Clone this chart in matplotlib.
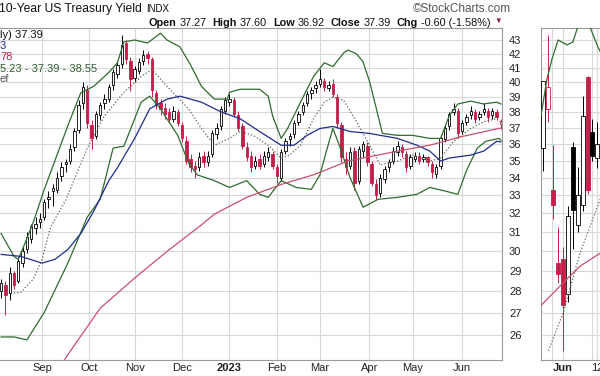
import numpy as np
import pandas as pd
import matplotlib
matplotlib.use("Agg")
import matplotlib.pyplot as plt
from matplotlib.ticker import NullLocator

plt.rcParams['font.family'] = ['Liberation Sans', 'DejaVu Sans']

# ---------------- data ----------------
# main panel: one candle every 2 weekdays, starting 2022-08-05
opens = [28.0, 28.3, 27.9, 28.9, 28.5, 29.4, 30.1, 30.6, 31.2, 31.5, 31.8, 32.8, 33.2, 33.3, 34.1, 34.8,
         35.0, 35.8, 36.9, 38.6, 39.5, 37.2, 36.5, 37.8, 38.6, 38.9, 39.8, 40.6, 41.3, 42.8, 41.5, 40.3,
         40.8, 41.5, 42.0, 41.6, 39.3, 38.6, 38.3, 38.0, 37.6, 38.0, 37.2, 36.2, 35.1, 34.7, 34.6, 35.3,
         34.9, 35.4, 36.6, 37.1, 38.1, 38.7, 38.8, 37.8, 37.1, 35.8, 35.3, 34.7, 35.1, 34.8, 35.2, 35.4,
         34.6, 34.0, 35.6, 36.3, 36.6, 37.4, 38.0, 38.6, 39.3, 39.6, 39.9, 40.1, 39.6, 39.9, 39.0, 37.2,
         35.1, 34.7, 35.6, 33.8, 35.6, 35.9, 34.8, 33.6, 33.1, 33.9, 34.6, 35.0, 35.5, 35.8, 35.4, 34.7,
         35.1, 35.3, 35.1, 35.2, 34.8, 34.2, 34.7, 36.3, 37.1, 38.0, 38.1, 36.8, 37.4, 37.8, 38.0, 37.7,
         38.0, 38.1, 37.8, 38.0, 37.27]
highs = [28.6, 28.5, 29.2, 29.0, 29.7, 30.2, 31.0, 31.4, 31.8, 32.0, 32.8, 33.2, 33.6, 34.3, 34.9, 35.1,
         36.0, 37.0, 38.8, 40.0, 39.8, 37.5, 38.1, 38.7, 39.2, 39.9, 40.9, 41.5, 43.4, 43.0, 41.8, 41.1,
         41.7, 42.3, 42.2, 41.8, 39.5, 38.9, 38.6, 38.3, 38.4, 38.2, 37.4, 36.5, 35.4, 35.0, 35.5, 35.6,
         35.6, 36.9, 37.3, 38.4, 39.0, 39.2, 39.0, 38.1, 37.3, 36.1, 35.6, 35.3, 35.4, 35.6, 35.8, 35.6,
         34.8, 35.7, 36.4, 36.7, 37.5, 38.1, 38.7, 39.4, 39.7, 40.1, 40.9, 40.3, 40.1, 40.2, 39.2, 37.4,
         35.5, 35.8, 35.8, 35.9, 36.2, 36.1, 35.0, 33.9, 34.2, 34.7, 35.1, 35.8, 36.2, 36.0, 35.6, 35.4,
         35.5, 35.5, 35.4, 35.3, 35.0, 34.8, 36.5, 37.2, 38.0, 38.6, 38.3, 37.5, 37.9, 38.4, 38.2, 38.1,
         38.6, 38.3, 38.3, 38.2, 37.60]
lows = [27.7, 26.9, 27.6, 28.1, 28.4, 29.2, 29.9, 30.4, 30.9, 31.2, 31.6, 32.3, 32.4, 33.1, 33.8, 34.3,
        34.8, 35.6, 36.7, 38.2, 37.0, 35.7, 36.3, 37.5, 38.2, 38.7, 39.5, 40.3, 41.0, 41.3, 39.4, 40.0,
        40.6, 41.2, 41.3, 39.0, 38.2, 37.8, 37.6, 37.3, 37.4, 37.1, 36.1, 34.8, 34.3, 34.0, 34.4, 34.6,
        34.7, 35.2, 36.3, 36.9, 37.9, 38.4, 37.7, 36.8, 35.7, 35.0, 34.3, 34.5, 34.5, 34.6, 35.0, 34.5,
        33.7, 33.8, 35.4, 35.9, 36.4, 37.2, 37.8, 38.4, 38.9, 39.3, 39.7, 39.4, 39.4, 39.0, 37.0, 34.9,
        34.2, 34.5, 33.3, 33.6, 35.2, 34.7, 33.5, 32.7, 32.9, 33.7, 34.3, 34.8, 35.3, 35.2, 34.3, 34.5,
        34.9, 34.8, 34.9, 34.7, 34.0, 34.0, 34.5, 36.1, 36.9, 37.8, 36.4, 36.6, 37.2, 37.6, 37.3, 37.5,
        37.8, 37.4, 37.6, 37.5, 36.92]
closes = [28.4, 27.8, 28.9, 28.3, 29.5, 30.0, 30.7, 31.3, 31.4, 31.7, 32.6, 32.9, 33.4, 34.0, 34.6, 34.9,
          35.7, 36.8, 38.5, 39.7, 37.3, 36.4, 37.9, 38.5, 38.9, 39.7, 40.7, 41.2, 42.6, 41.6, 40.2, 40.9,
          41.4, 41.9, 41.7, 39.5, 38.5, 38.2, 37.9, 37.6, 38.1, 37.3, 36.4, 35.0, 34.6, 34.5, 35.2, 34.9,
          35.3, 36.7, 37.0, 38.2, 38.8, 38.9, 37.9, 37.0, 35.9, 35.2, 34.6, 35.0, 34.7, 35.3, 35.5, 34.7,
          34.1, 35.5, 36.2, 36.5, 37.3, 37.9, 38.5, 39.2, 39.5, 39.8, 40.2, 39.7, 39.8, 39.2, 37.3, 35.2,
          34.6, 35.5, 33.7, 35.7, 36.0, 34.9, 33.7, 33.0, 34.0, 34.5, 34.9, 35.6, 35.9, 35.5, 34.6, 35.2,
          35.3, 35.0, 35.2, 34.9, 34.3, 34.6, 36.4, 37.0, 37.9, 38.2, 36.7, 37.3, 37.7, 38.1, 37.6, 37.9,
          38.2, 37.7, 38.1, 37.7, 37.39]

# indicator lines: (weekday index, value)
bb_upper_x = [0, 6, 8, 11, 15, 20, 31, 37, 43, 50, 54, 57, 62, 68, 74, 77, 83, 88, 93, 99, 105, 106, 111,
              120, 124, 126, 130, 133, 139, 145, 150, 154, 159, 161, 165, 168, 171, 175, 177, 184, 191,
              199, 204, 208, 212, 218, 224, 230, 232]
bb_upper = [30.9, 29.72, 29.57, 30.37, 31.52, 33.3, 37.15, 39.3, 39.73, 40.68, 41.36, 42.86, 43.0, 42.78,
            43.5, 43.0, 42.5, 41.2, 39.73, 38.87, 38.87, 39.33, 39.53, 39.53, 39.07, 37.78, 36.35, 36.97,
            38.67, 40.4, 41.36, 41.09, 42.06, 42.27, 41.99, 41.43, 40.07, 37.78, 36.66, 36.54, 36.54,
            36.35, 36.35, 37.78, 38.55, 38.74, 38.55, 38.67, 38.55]
bb_lower_x = [0, 6, 12, 20, 31, 40, 46, 52, 57, 65, 69, 74, 82, 87, 91, 99, 106, 114, 120, 124, 130, 137,
              144, 148, 151, 154, 157, 162, 168, 175, 184, 193, 199, 205, 212, 216, 221, 225, 231, 232]
bb_lower = [25.9, 25.9, 25.77, 27.0, 29.38, 31.78, 32.76, 35.75, 35.87, 38.67, 39.07, 38.23, 36.54, 34.86,
            34.16, 33.82, 33.43, 33.82, 33.04, 32.87, 33.82, 33.43, 33.32, 34.16, 35.57, 36.97, 35.93,
            33.99, 32.32, 32.76, 32.87, 33.04, 33.43, 33.26, 33.04, 34.4, 35.75, 36.17, 36.35, 36.23]
sma20_x = [6, 9, 15, 19, 23, 30, 40, 48, 57, 65, 70, 77, 87, 93, 99, 106, 111, 117, 124, 130, 134, 139,
           145, 150, 154, 159, 165, 171, 176, 184, 191, 199, 204, 210, 218, 224, 230, 232]
sma20 = [27.93, 27.93, 28.6, 29.57, 31.26, 32.71, 35.75, 37.78, 39.33, 40.4, 40.88, 39.73, 38.23, 36.97,
         35.93, 36.35, 36.78, 36.54, 35.93, 35.15, 35.33, 35.93, 37.59, 38.67, 39.0, 38.8, 37.4, 35.93,
         34.74, 34.97, 35.33, 34.97, 35.15, 36.17, 36.97, 37.4, 37.59, 37.39]
sma50_x = [0, 9, 19, 25, 31, 37, 43, 50, 54, 62, 69, 77, 83, 93, 102, 111, 120, 130, 136, 142, 148, 154,
           162, 171, 184, 193, 199, 204, 208, 218, 224, 230, 232]
sma50 = [29.82, 29.72, 29.38, 29.57, 30.07, 30.9, 32.1, 33.82, 34.57, 36.35, 38.23, 38.87, 39.07, 38.67,
         38.04, 37.59, 36.78, 35.93, 35.93, 36.54, 36.97, 37.1, 36.78, 36.66, 36.35, 35.93, 35.57, 34.97,
         35.15, 35.33, 35.57, 36.17, 36.13]
sma200_x = [28, 31, 46, 62, 77, 93, 99, 114, 130, 145, 161, 168, 184, 199, 214, 231, 232]
sma200 = [24.7, 25.13, 27.2, 28.64, 29.97, 31.36, 31.94, 32.87, 33.6, 34.16, 34.97, 35.15, 35.57, 35.93,
          36.47, 36.97, 37.0]

# right-hand panel (partly cut off)
r_open = [35.75, 38.23, 33.26, 29.38, 29.57, 27.89, 35.81, 31.36, 32.43, 40.4, 36.78, 35.15]
r_high = [40.1, 43.4, 35.93, 31.26, 30.2, 32.38, 36.11, 34.6, 39.06, 40.47, 37.59, 37.4]
r_low = [34.4, 37.4, 31.68, 28.41, 25.3, 27.47, 30.07, 31.0, 32.1, 33.04, 35.0, 34.57]
r_close = [40.07, 39.67, 32.43, 28.84, 27.33, 31.84, 32.15, 32.98, 37.78, 33.26, 35.27, 36.0]
r_upper_x = [-0.5, 0.7, 1.7, 3.0, 4.8, 6.0, 7.0, 8.0, 9.5, 11.1, 12.5]
r_upper = [37.78, 40.2, 41.57, 43.0, 42.64, 42.85, 43.97, 44.9, 43.97, 42.5, 41.57]
r_sma20_x = [1, 4, 7.5, 11.5, 13.6]
r_sma20 = [25.3, 26.97, 29.92, 32.7, 34.2]
r_sma200_x = [-0.5, 4, 7.5, 11.5, 14]
r_sma200 = [27.33, 28.4, 29.23, 29.87, 30.2]

yticks = list(range(26, 44))
month_labels = ["Sep", "Oct", "Nov", "Dec", "2023", "Feb", "Mar", "Apr", "May", "Jun"]

header_items = [("Open", True), ("37.27", False), ("High", True), ("37.60", False),
                ("Low", True), ("36.92", False), ("Close", True), ("37.39", False),
                ("Chg", True), ("-0.60 (-1.58%)", False)]

RED = '#c41e4a'
GREEN = '#2f6b2f'
BLUE = '#1f2d8a'
MA200 = '#c8506e'
GRID = '#d9d9d9'
EDGE = '#9a9a9a'

W, H = 600, 376


def px(x, y):
    return x / W, 1 - y / H


def draw_candles(ax, xs, o, h, l, c, width):
    prev = [c[0]] + list(c[:-1])
    for x, oo, hh, ll, cc, pc in zip(xs, o, h, l, c, prev):
        col = RED if cc < pc else 'black'
        ax.vlines(x, ll, hh, color=col, lw=0.7, zorder=3)
        face = col if cc < oo else 'white'
        ax.bar(x, max(abs(cc - oo), 0.04), width, bottom=min(oo, cc), color=face,
               edgecolor=col, linewidth=0.6, zorder=4)


def style_axes(ax):
    ax.set_yscale('log')
    ax.set_ylim(24.9, 43.89)
    ax.yaxis.set_minor_locator(NullLocator())
    ax.xaxis.set_minor_locator(NullLocator())
    ax.set_yticks(yticks)
    ax.grid(True, color=GRID, lw=0.8, zorder=0)
    ax.set_axisbelow(True)
    ax.tick_params(length=0, colors='#222222', labelsize=8)
    for s in ax.spines.values():
        s.set_color(EDGE)
        s.set_linewidth(0.8)


fig = plt.figure(figsize=(6, 3.76), dpi=100)
renderer = fig.canvas.get_renderer()

# ---------------- main panel ----------------
ax = fig.add_axes([0, 1 - 360 / H, 502 / W, 332 / H])
style_axes(ax)
dates = pd.bdate_range('2022-08-05', periods=233)
idx = np.arange(len(dates))
bar_x = idx[::2][:len(closes)]
draw_candles(ax, bar_x, opens, highs, lows, closes, 1.1)

ax.plot(bb_upper_x, bb_upper, color=GREEN, lw=0.9, zorder=5)
ax.plot(bb_lower_x, bb_lower, color=GREEN, lw=0.9, zorder=5)
ax.plot(sma20_x, sma20, color='#4d6e4d', lw=0.9, ls=(0, (1, 1.6)), zorder=5)
ax.plot(sma50_x, sma50, color=BLUE, lw=0.9, zorder=5)
ax.plot(sma200_x, sma200, color=MA200, lw=0.9, zorder=5)

ax.set_xlim(-0.5, 232.5)
month_start = [i for i in range(1, len(dates)) if dates[i].month != dates[i - 1].month]
ax.set_xticks(month_start)
ax.set_xticklabels(month_labels)
for t in ax.get_xticklabels():
    if t.get_text() == "2023":
        t.set_fontweight('bold')
ax.tick_params(axis='x', pad=2)
ax.yaxis.tick_right()
ax.set_yticklabels([str(v) for v in yticks])
ax.tick_params(axis='y', pad=5)
ax.spines['left'].set_visible(False)

# ---------------- right panel ----------------
ax2 = fig.add_axes([541 / W, 1 - 360 / H, 100 / W, 332 / H])
style_axes(ax2)
draw_candles(ax2, np.arange(len(r_close)), r_open, r_high, r_low, r_close, 0.8)
ax2.plot(r_upper_x, r_upper, color=GREEN, lw=0.9, zorder=5)
ax2.plot(r_sma20_x, r_sma20, color='#4d6e4d', lw=0.9, ls=(0, (1, 1.6)), zorder=5)
ax2.plot(r_sma200_x, r_sma200, color=MA200, lw=0.9, zorder=5)
ax2.set_xlim(-0.5, -0.5 + 100 / 4.9)
ax2.set_xticks([4, 11.0])
ax2.set_xticklabels(["Jun", "12"])
ax2.get_xticklabels()[0].set_fontweight('bold')
ax2.set_yticklabels([])
ax2.tick_params(axis='x', pad=2)
for g in [1.75, 9.9]:
    ax2.axvline(g, color=GRID, lw=0.8, zorder=0)

# ---------------- header texts ----------------
title = fig.text(*px(-1, 9), "10-Year US Treasury Yield", fontsize=8.7, va='center', color='#111111')
tb = title.get_window_extent(renderer)
fig.text((tb.x1 + 4) / W, 1 - 9.5 / H, "INDX", fontsize=7, va='center', color='#111111')
fig.text(*px(413, 9), "\u00a9StockCharts.com", fontsize=8.5, va='center', color='#555555')

# header line laid out left to right, then shifted so it ends at the plot's right edge
pieces = []
for s, bold in header_items:
    pieces.append(fig.text(0, 1 - 22.5 / H, s, fontsize=7.8, va='center', color='#111111',
                           fontweight='bold' if bold else 'normal'))
tri = fig.text(0, 1 - 21.5 / H, "\u25bc", fontsize=5.5, va='center', color='#8b1a3a')
widths = [p.get_window_extent(renderer).width for p in pieces]
gaps = [3 if bold else 6 for _, bold in header_items]
tri_w = tri.get_window_extent(renderer).width
total = sum(widths) + sum(gaps[:-1]) + 4 + tri_w
xcur = 502 - total
for p, w, g in zip(pieces, widths, gaps):
    p.set_x(xcur / W)
    xcur += w + g
tri.set_x((xcur - g + 4) / W)

# legend fragments (cut off at left edge)
legend = [(35.5, "ly) 37.39", '#111111'), (46, "3", '#1f2d8a'), (57, "78", '#c41e4a'),
          (69, "5.23 - 37.39 - 38.55", '#2f5f2f'), (79, "ef", '#555555')]
for y0, s, col in legend:
    fig.text(*px(0, y0), s, fontsize=8, va='center', color=col)

fig.savefig("out.png", dpi=100)
